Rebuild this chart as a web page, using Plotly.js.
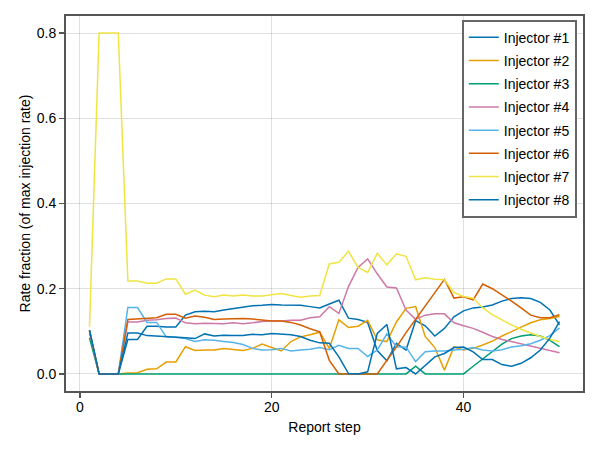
<!DOCTYPE html>
<html>
<head>
<meta charset="utf-8">
<script src="https://cdn.plot.ly/plotly-3.0.1.min.js"></script>
<style>
  html, body { margin: 0; padding: 0; background: #fff; }
  #chart { width: 600px; height: 450px; }
</style>
</head>
<body>
<div id="chart"></div>
<script>
// report steps 1..50
const steps = [
  1, 2, 3, 4, 5, 6, 7, 8, 9, 10,
  11, 12, 13, 14, 15, 16, 17, 18, 19, 20,
  21, 22, 23, 24, 25, 26, 27, 28, 29, 30,
  31, 32, 33, 34, 35, 36, 37, 38, 39, 40,
  41, 42, 43, 44, 45, 46, 47, 48, 49, 50
];

const injector1 = [
  0.103, 0, 0, 0, 0.081, 0.081, 0.112, 0.112, 0.110, 0.110,
  0.138, 0.146, 0.147, 0.146, 0.150, 0.153, 0.157, 0.160, 0.161, 0.163,
  0.162, 0.162, 0.161, 0.158, 0.155, 0.164, 0.173, 0.131, 0.128, 0.121,
  0.055, 0.031, 0.072, 0.056, 0.125, 0.113, 0.089, 0.107, 0.134, 0.148,
  0.155, 0.157, 0.162, 0.171, 0.177, 0.179, 0.177, 0.168, 0.150, 0.115
];
const injector2 = [
  0.100, 0, 0, 0, 0.002, 0.003, 0.011, 0.012, 0.028, 0.028,
  0.064, 0.055, 0.056, 0.056, 0.060, 0.058, 0.055, 0.060, 0.070, 0.062,
  0.054, 0.076, 0.087, 0.092, 0.098, 0.060, 0.127, 0.109, 0.112, 0.126,
  0.080, 0.076, 0.122, 0.154, 0.158, 0.088, 0.062, 0.009, 0.064, 0.056,
  0.060, 0.068, 0.077, 0.089, 0.100, 0.110, 0.120, 0.127, 0.130, 0.135
];
const injector3 = [
  0.085, 0, 0, 0, 0, 0, 0, 0, 0, 0,
  0, 0, 0, 0, 0, 0, 0, 0, 0, 0,
  0, 0, 0, 0, 0, 0, 0, 0, 0, 0,
  0, 0, 0, 0, 0.018, 0, 0, 0, 0, 0,
  0.018, 0.035, 0.053, 0.070, 0.083, 0.089, 0.092, 0.089, 0.079, 0.064
];
const injector4 = [
  0.100, 0, 0, 0, 0.122, 0.122, 0.126, 0.127, 0.130, 0.131,
  0.120, 0.118, 0.119, 0.118, 0.118, 0.120, 0.118, 0.120, 0.123, 0.124,
  0.124, 0.126, 0.126, 0.132, 0.134, 0.158, 0.142, 0.205, 0.250, 0.270,
  0.235, 0.204, 0.202, 0.150, 0.128, 0.138, 0.141, 0.141, 0.120, 0.113,
  0.107, 0.098, 0.088, 0.081, 0.076, 0.070, 0.066, 0.060, 0.055, 0.050
];
const injector5 = [
  0.100, 0, 0, 0, 0.156, 0.156, 0.121, 0.121, 0.087, 0.086,
  0.083, 0.076, 0.080, 0.079, 0.076, 0.074, 0.069, 0.060, 0.056, 0.057,
  0.060, 0.054, 0.056, 0.058, 0.062, 0.057, 0.067, 0.060, 0.060, 0.041,
  0.056, 0.094, 0.064, 0.063, 0.029, 0.052, 0.054, 0.054, 0.056, 0.058,
  0.062, 0.056, 0.054, 0.057, 0.063, 0.066, 0.071, 0.079, 0.090, 0.108
];
const injector6 = [
  0.100, 0, 0, 0, 0.128, 0.129, 0.131, 0.132, 0.140, 0.140,
  0.131, 0.136, 0.133, 0.128, 0.129, 0.130, 0.130, 0.129, 0.127, 0.124,
  0.124, 0.121, 0.115, 0.106, 0.099, 0.032, 0, 0, 0, 0,
  0, 0.032, 0.063, 0.097, 0.128, 0.160, 0.190, 0.222, 0.178, 0.181,
  0.174, 0.211, 0.200, 0.186, 0.171, 0.155, 0.138, 0.132, 0.132, 0.139
];
const injector7 = [
  0.111, 0.8, 0.8, 0.8, 0.218, 0.218, 0.213, 0.213, 0.223, 0.223,
  0.187, 0.197, 0.185, 0.181, 0.185, 0.183, 0.185, 0.183, 0.183, 0.186,
  0.189, 0.184, 0.180, 0.183, 0.184, 0.258, 0.262, 0.288, 0.250, 0.238,
  0.283, 0.256, 0.282, 0.276, 0.221, 0.226, 0.222, 0.221, 0.191, 0.182,
  0.178, 0.155, 0.139, 0.127, 0.115, 0.105, 0.096, 0.088, 0.081, 0.076
];
const injector8 = [
  0.103, 0, 0, 0, 0.096, 0.096, 0.090, 0.089, 0.088, 0.086,
  0.085, 0.083, 0.094, 0.089, 0.091, 0.090, 0.090, 0.093, 0.092, 0.095,
  0.094, 0.092, 0.088, 0.079, 0.073, 0.072, 0.040, 0.001, 0, 0.005,
  0.095, 0.116, 0.012, 0.015, 0, 0.021, 0.040, 0.048, 0.062, 0.063,
  0.052, 0.034, 0.034, 0.022, 0.018, 0.025, 0.038, 0.056, 0.084, 0.123
];

const names = [
  "Injector #1", "Injector #2", "Injector #3", "Injector #4",
  "Injector #5", "Injector #6", "Injector #7", "Injector #8"
];
const series = [injector1, injector2, injector3, injector4,
                injector5, injector6, injector7, injector8];

// Wong palette, cycles back to blue for the 8th
const colors = ["#0072B2", "#E69F00", "#009E73", "#CC79A7",
                "#56B4E9", "#D55E00", "#F0E442", "#0072B2"];

var data = series.map((ys, i) => ({
  x: steps,
  y: ys,
  type: "scatter",
  mode: "lines",
  name: names[i],
  legendgroup: "g" + i, // own group each, so tracegroupgap spaces the rows
  line: { color: colors[i], width: 1.5 },
}));

var axisCommon = {
  showline: true,
  mirror: true,
  linecolor: "#555",
  linewidth: 2,
  ticks: "outside",
  ticklen: 5,
  tickwidth: 1.5,
  tickcolor: "#555",
  gridcolor: "rgba(0,0,0,0.12)",
  gridwidth: 1,
  zeroline: false,
  tickfont: { size: 14, color: "#000" },
};

var layout = {
  width: 600,
  height: 450,
  margin: { l: 66, r: 17, t: 16, b: 59 },
  paper_bgcolor: "#fff",
  plot_bgcolor: "#fff",
  font: { family: "Liberation Sans, Arial, sans-serif", size: 14, color: "#000" },
  showlegend: true,
  xaxis: Object.assign({}, axisCommon, {
    range: [-1.45, 52.45],
    tickvals: [0, 20, 40],
    ticktext: ["0", "20", "40"],
    ticklabelstandoff: -3,
    title: { text: "Report step", font: { size: 14 }, standoff: 8 },
  }),
  yaxis: Object.assign({}, axisCommon, {
    range: [-0.04, 0.84],
    tickvals: [0, 0.2, 0.4, 0.6, 0.8],
    ticktext: ["0.0", "0.2", "0.4", "0.6", "0.8"],
    title: { text: "Rate fraction (of max injection rate)", font: { size: 14 }, standoff: 3 },
  }),
  legend: {
    x: 0.988,
    y: 0.99,
    xanchor: "right",
    yanchor: "top",
    bgcolor: "#fff",
    bordercolor: "#666",
    borderwidth: 2,
    traceorder: "grouped",
    tracegroupgap: 2,
    font: { size: 14, color: "#000" },
  },
};

Plotly.newPlot("chart", data, layout, { staticPlot: true, displayModeBar: false });
</script>
</body>
</html>
